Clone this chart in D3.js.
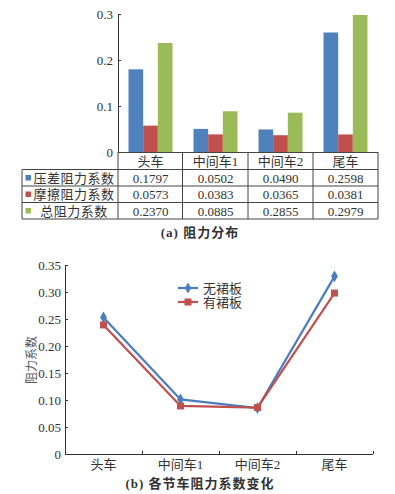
<!DOCTYPE html>
<html><head><meta charset="utf-8">
<script src="https://cdn.jsdelivr.net/npm/d3@7"></script>
<style>
body{margin:0;background:#fff}
svg text{font-family:"Liberation Serif","Times New Roman","Noto Sans CJK SC",serif !important;fill:#333}
</style></head>
<body><svg id="c" width="395" height="494"></svg>
<script>
// ---- data (a)
const cars = ["头车","中间车1","中间车2","尾车"];
const seriesNames = ["压差阻力系数","摩擦阻力系数","总阻力系数"];
const pressure = [0.1797,0.0502,0.0490,0.2598];
const friction = [0.0573,0.0383,0.0365,0.0381];
const total = [0.2370,0.0885,0.0855,0.2979];
const pressureLabels = ["0.1797","0.0502","0.0490","0.2598"];
const frictionLabels = ["0.0573","0.0383","0.0365","0.0381"];
const totalLabels = ["0.2370","0.0885","0.2855","0.2979"];
const ticksA = [0,0.1,0.2,0.3];
// ---- data (b)
const lineNames = ["无裙板","有裙板"];
const noSkirt = [0.253,0.101,0.085,0.329];
const withSkirt = [0.239,0.089,0.086,0.298];
const ticksB = [0,0.05,0.10,0.15,0.20,0.25,0.30,0.35];

const colors = ["#4f81bd","#c0504d","#9bbb59"];
const lineColors = ["#4a7cc0","#c0504d"];
const svg = d3.select("#c");
const FF = '"Liberation Serif","Times New Roman","Noto Sans CJK SC",serif';

// ===== chart (a)
const xA = d3.scaleBand().domain(cars).range([118,378]).padding(0);
const xSub = d3.scaleBand().domain(d3.range(3)).range([10.5, xA.bandwidth()-10.5]).padding(0);
const yA = d3.scaleLinear().domain([0,0.3]).range([152,14]);
const seriesA = [pressure, friction, total];

const gA = svg.append("g");
seriesA.forEach((vals,si)=>{
  gA.selectAll(null).data(vals).enter().append("rect")
    .attr("x",(d,i)=>xA(cars[i])+xSub(si))
    .attr("width",xSub.bandwidth())
    .attr("y",d=>yA(d))
    .attr("height",d=>yA(0)-yA(d))
    .attr("fill",colors[si]);
});
const axA = gA.append("g").attr("transform","translate(118,0)")
  .call(d3.axisLeft(yA).tickValues(ticksA).tickFormat(d=>d===0?"0":d3.format(".1f")(d)).tickSize(-3).tickPadding(5));
axA.attr("font-family",FF);
axA.select(".domain").attr("stroke","#333").attr("d","M0.5,14V152");
axA.selectAll(".tick line").attr("stroke","#333");
axA.selectAll(".tick text").style("font-size","13px").attr("fill","#333");

// table
const tbl = svg.append("g").attr("stroke","#444").attr("stroke-width",1);
const colXs = [118,182.5,248,313,378];
tbl.append("line").attr("x1",118).attr("x2",378).attr("y1",152.5).attr("y2",152.5);
[169.5,186,202.5,219].forEach(y=>tbl.append("line").attr("x1",22).attr("x2",378).attr("y1",y).attr("y2",y));
colXs.forEach(x=>tbl.append("line").attr("x1",x).attr("x2",x).attr("y1",152).attr("y2",219));
tbl.append("line").attr("x1",22).attr("x2",22).attr("y1",169.5).attr("y2",219);

const tt = svg.append("g").attr("font-family",FF);
cars.forEach((c,i)=>{
  tt.append("text").attr("x",xA(c)+xA.bandwidth()/2).attr("y",161).attr("dy","0.35em")
    .attr("text-anchor","middle").style("font-size","13px").text(c);
});
const rowLabels = [pressureLabels, frictionLabels, totalLabels];
const rowCY = [178,194.5,211];
rowLabels.forEach((labs,ri)=>{
  tt.append("rect").attr("x",25.5).attr("y",rowCY[ri]-3).attr("width",5.5).attr("height",5.5).attr("fill",colors[ri]);
  tt.append("text").attr("x",74).attr("y",rowCY[ri]).attr("dy","0.35em").attr("text-anchor","middle")
    .style("font-size","13px").style("letter-spacing","0.5px").text(seriesNames[ri]);
  labs.forEach((l,i)=>{
    tt.append("text").attr("x",xA(cars[i])+xA.bandwidth()/2).attr("y",rowCY[ri]).attr("dy","0.35em")
      .attr("text-anchor","middle").style("font-size","13px").text(l);
  });
});
svg.append("text").attr("x",200).attr("y",232).attr("dy","0.35em").attr("text-anchor","middle")
  .style("font-size","13px").style("font-weight","bold").style("letter-spacing","1px").text("(a) 阻力分布");

// ===== chart (b)
const xB = d3.scaleBand().domain(cars).range([65,373]).padding(0);
const yB = d3.scaleLinear().domain([0,0.35]).range([454,265]);
const gB = svg.append("g").attr("font-family",FF);
const ayB = gB.append("g").attr("transform","translate(65,0)")
  .call(d3.axisLeft(yB).tickValues(ticksB).tickFormat(d=>d===0?"0":d3.format(".2f")(d)).tickSize(-3).tickPadding(4));
ayB.attr("font-family",FF);
ayB.select(".domain").attr("stroke","#333").attr("d","M0.5,265V454");
ayB.selectAll(".tick line").attr("stroke","#333");
ayB.selectAll(".tick text").style("font-size","13px").attr("fill","#333");
gB.append("line").attr("x1",65).attr("x2",373).attr("y1",454.5).attr("y2",454.5).attr("stroke","#333");
const bounds = cars.map(c=>xB(c)).concat([373]);
bounds.forEach(x=>gB.append("line").attr("x1",x+0.5).attr("x2",x+0.5).attr("y1",454).attr("y2",451).attr("stroke","#333"));
cars.forEach(c=>gB.append("text").attr("x",xB(c)+xB.bandwidth()/2).attr("y",464).attr("dy","0.35em")
  .attr("text-anchor","middle").style("font-size","13px").text(c));
gB.append("text").attr("transform","translate(36,360) rotate(-90)").attr("text-anchor","middle")
  .style("font-size","12px").style("fill","#555").text("阻力系数");

const line = d3.line().x((d,i)=>xB(cars[i])+xB.bandwidth()/2).y(d=>yB(d));
const lineData = [noSkirt, withSkirt];
lineData.forEach((vals,li)=>{
  gB.append("path").datum(vals).attr("d",line).attr("fill","none").attr("stroke",lineColors[li]).attr("stroke-width",2.2);
});
gB.selectAll(null).data(noSkirt).enter().append("path")
  .attr("transform",(d,i)=>`translate(${xB(cars[i])+xB.bandwidth()/2},${yB(d)})`)
  .attr("d",d3.symbol(d3.symbolDiamond,40)).attr("fill",lineColors[0]);
gB.selectAll(null).data(withSkirt).enter().append("rect")
  .attr("x",(d,i)=>xB(cars[i])+xB.bandwidth()/2-3.5).attr("y",d=>yB(d)-3.5)
  .attr("width",7).attr("height",7).attr("fill",lineColors[1]);
const legY = [288,302];
lineNames.forEach((n,li)=>{
  gB.append("line").attr("x1",178).attr("x2",198).attr("y1",legY[li]).attr("y2",legY[li]).attr("stroke",lineColors[li]).attr("stroke-width",2.2);
  if(li===0) gB.append("path").attr("transform",`translate(188,${legY[li]})`).attr("d",d3.symbol(d3.symbolDiamond,35)).attr("fill",lineColors[0]);
  else gB.append("rect").attr("x",184.5).attr("y",legY[li]-3.5).attr("width",7).attr("height",7).attr("fill",lineColors[1]);
  gB.append("text").attr("x",203).attr("y",legY[li]).attr("dy","0.35em").style("font-size","13px").text(n);
});
svg.append("text").attr("x",200).attr("y",483).attr("dy","0.35em").attr("text-anchor","middle")
  .style("font-size","13px").style("font-weight","bold").style("letter-spacing","1px").text("(b) 各节车阻力系数变化");
</script></body></html>
